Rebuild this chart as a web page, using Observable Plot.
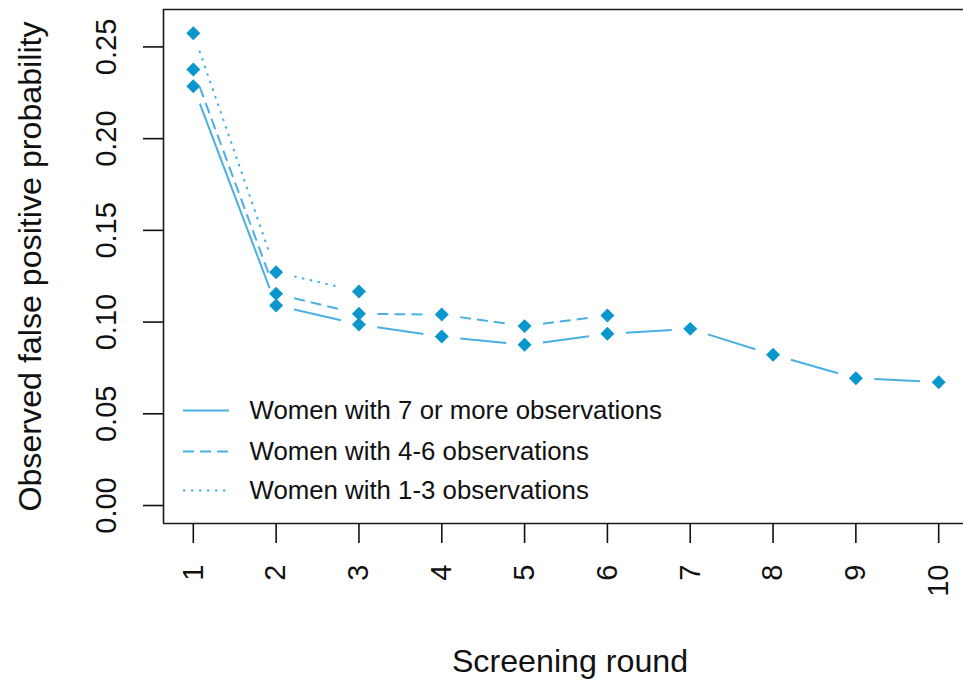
<!DOCTYPE html>
<html><head><meta charset="utf-8">
<script src="https://cdn.jsdelivr.net/npm/d3@7"></script>
<script src="https://cdn.jsdelivr.net/npm/@observablehq/plot@0.6"></script>
<style>
html,body{margin:0;padding:0;background:#fff;overflow:hidden;}
#chart{width:963px;height:684px;overflow:hidden;}
#chart svg{max-width:none !important;}
</style></head><body><div id="chart"></div>
<script>
// ---- data ----
const rounds = [1, 2, 3, 4, 5, 6, 7, 8, 9, 10];
const seriesNames = [
  "Women with 7 or more observations",
  "Women with 4-6 observations",
  "Women with 1-3 observations"
];
const prob7plus = [0.2285, 0.1091, 0.0987, 0.0921, 0.0876, 0.0936, 0.0963, 0.0822, 0.0694, 0.0672];
const prob4to6  = [0.2377, 0.1154, 0.1045, 0.1041, 0.0978, 0.1036];
const prob1to3  = [0.2575, 0.1272, 0.1167];
const yTicks = [0, 0.05, 0.10, 0.15, 0.20, 0.25];
const xTicks = rounds;
const xLabel = "Screening round";
const yLabel = "Observed false positive probability";

// ---- styling / layout ----
const lineColor = "#4ab0e2";
const dotColor = "#0a97cd";
const dashes = [null, "11,6", "2.5,5.5"];
const W = 968, H = 684, ML = 163, MR = 0, MT = 9, MB = 161;
const xDomain = [0.64, 10.36], yDomain = [-0.0098, 0.2704];
const xAt = px => xDomain[0] + (px - ML) / (W - ML - MR) * (xDomain[1] - xDomain[0]);
const yAt = py => yDomain[1] - (py - MT) / (H - MT - MB) * (yDomain[1] - yDomain[0]);
const legendPy = [410, 451, 490];
const font = "'Liberation Sans', Arial, Helvetica, sans-serif";

const allValues = [prob7plus, prob4to6, prob1to3];
const points = [];
const segments = [];
allValues.forEach((vals, s) => {
  vals.forEach((v, i) => {
    points.push({round: rounds[i], value: v, series: seriesNames[s]});
    if (i > 0) segments.push({x1: rounds[i - 1], y1: vals[i - 1], x2: rounds[i], y2: v, s});
  });
});

const marks = [
  // plot box (right edge falls outside the window in the reference)
  Plot.ruleY([yDomain[0], yDomain[1]], {stroke: "#1a1a1a", strokeWidth: 1.6}),
  Plot.ruleX([xDomain[0]], {stroke: "#1a1a1a", strokeWidth: 1.6}),
  Plot.axisY(yTicks, {
    tickSize: 20, tickPadding: 28, tickRotate: -90,
    textAnchor: "middle", lineAnchor: "bottom",
    tickFormat: d3.format(".2f"), fontSize: 29, label: null,
    color: "#111", strokeWidth: 1.6
  }),
  Plot.axisX(xTicks, {
    tickSize: 20, tickPadding: 21, tickRotate: -90,
    textAnchor: "end", lineAnchor: "middle",
    tickFormat: d => String(d), fontSize: 29, label: null,
    color: "#111", strokeWidth: 1.6
  })
];
seriesNames.forEach((name, s) => {
  marks.push(Plot.arrow(segments.filter(d => d.s === s), {
    x1: "x1", y1: "y1", x2: "x2", y2: "y2",
    insetStart: 18.5, insetEnd: 18.5, headLength: 0,
    stroke: lineColor, strokeWidth: 2, strokeLinecap: "butt",
    strokeDasharray: dashes[s]
  }));
  marks.push(Plot.ruleY([yAt(legendPy[s])], {
    x1: xAt(183), x2: xAt(229), stroke: lineColor, strokeWidth: 2,
    strokeDasharray: dashes[s]
  }));
});
marks.push(Plot.dot(points, {x: "round", y: "value", symbol: "diamond2", r: 6.3, fill: dotColor, stroke: null}));
marks.push(Plot.text(seriesNames, {
  x: xAt(249), y: (d, i) => yAt(legendPy[i]), textAnchor: "start", fontSize: 25.8, fill: "#111"
}));
marks.push(Plot.text([yLabel], {
  frameAnchor: "left", dx: -123, rotate: -90, textAnchor: "middle", lineAnchor: "bottom",
  fontSize: 32.2, fill: "#111"
}));
marks.push(Plot.text([xLabel], {
  frameAnchor: "bottom", dx: 4, dy: 148, lineAnchor: "bottom", fontSize: 32.2, fill: "#111"
}));

const chart = Plot.plot({
  width: W, height: H,
  marginLeft: ML, marginRight: MR, marginTop: MT, marginBottom: MB,
  style: {fontFamily: font, background: "#fff", overflow: "hidden", maxWidth: "none"},
  x: {domain: xDomain},
  y: {domain: yDomain},
  marks
});
document.getElementById("chart").appendChild(chart);
</script></body></html>
